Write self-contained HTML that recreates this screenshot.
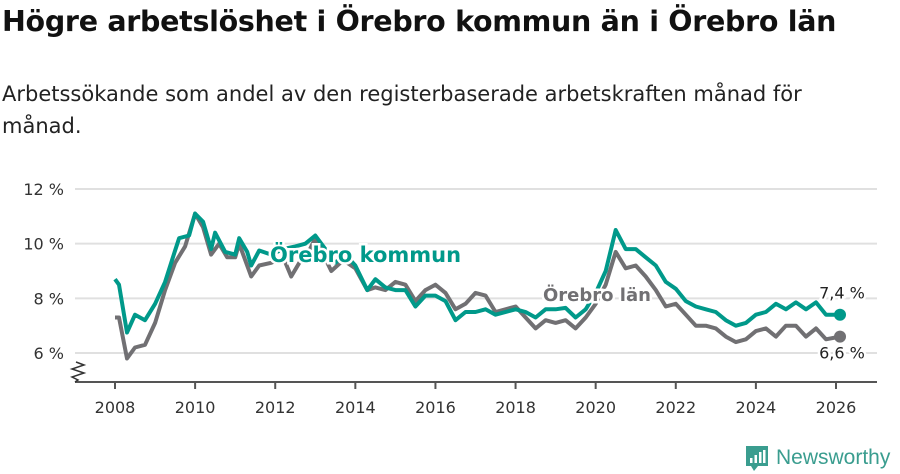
<!DOCTYPE html>
<html><head><meta charset="utf-8">
<style>
body{margin:0;width:900px;height:474px;background:#fff;font-family:"DejaVu Sans","Liberation Sans",sans-serif;overflow:hidden;position:relative}
h1{position:absolute;left:2px;top:5px;margin:0;font-size:28.5px;font-weight:bold;color:#111;letter-spacing:-0.3px;white-space:nowrap}
p.sub{position:absolute;left:2px;top:78px;margin:0;font-size:21px;line-height:32px;color:#222;width:830px}
svg{position:absolute;left:0;top:0}
</style></head><body>
<h1>Högre arbetslöshet i Örebro kommun än i Örebro län</h1>
<p class="sub">Arbetssökande som andel av den registerbaserade arbetskraften månad för månad.</p>
<svg id="chart" width="900" height="474"></svg>
<script>
const yTicks=[6,8,10,12];
const yTickLabels=["6 %","8 %","10 %","12 %"];
const xTicks=[2008,2010,2012,2014,2016,2018,2020,2022,2024,2026];
const kommunDates=[2008,2008.1,2008.3,2008.5,2008.75,2009,2009.25,2009.5,2009.6,2009.85,2010,2010.2,2010.4,2010.5,2010.75,2011,2011.1,2011.3,2011.4,2011.6,2011.9,2012.2,2012.5,2012.75,2013,2013.25,2013.5,2013.75,2014,2014.3,2014.5,2014.75,2015,2015.25,2015.5,2015.75,2016,2016.25,2016.5,2016.75,2017,2017.25,2017.5,2018,2018.25,2018.5,2018.75,2019,2019.25,2019.5,2019.75,2020,2020.25,2020.5,2020.75,2021,2021.25,2021.5,2021.75,2022,2022.25,2022.5,2022.75,2023,2023.25,2023.5,2023.75,2024,2024.25,2024.5,2024.75,2025,2025.25,2025.5,2025.75,2026.1];
const kommunValues=[8.7,8.5,6.75,7.4,7.2,7.8,8.6,9.75,10.2,10.3,11.1,10.8,9.8,10.4,9.7,9.6,10.2,9.7,9.2,9.75,9.6,9.8,9.9,10.0,10.3,9.8,9.3,9.6,9.2,8.3,8.7,8.4,8.3,8.3,7.7,8.1,8.1,7.9,7.2,7.5,7.5,7.6,7.4,7.6,7.5,7.3,7.6,7.6,7.65,7.3,7.6,8.2,9.0,10.5,9.8,9.8,9.5,9.2,8.6,8.35,7.9,7.7,7.6,7.5,7.2,7.0,7.1,7.4,7.5,7.8,7.6,7.85,7.6,7.85,7.4,7.4];
const lanDates=[2008,2008.1,2008.3,2008.5,2008.75,2009,2009.25,2009.5,2009.75,2010,2010.2,2010.4,2010.6,2010.8,2011,2011.1,2011.4,2011.6,2011.9,2012.2,2012.4,2012.6,2012.8,2013,2013.2,2013.4,2013.7,2014,2014.3,2014.5,2014.75,2015,2015.25,2015.5,2015.75,2016,2016.25,2016.5,2016.75,2017,2017.25,2017.5,2017.75,2018,2018.25,2018.5,2018.75,2019,2019.25,2019.5,2019.75,2020,2020.25,2020.5,2020.75,2021,2021.25,2021.5,2021.75,2022,2022.25,2022.5,2022.75,2023,2023.25,2023.5,2023.75,2024,2024.25,2024.5,2024.75,2025,2025.25,2025.5,2025.75,2026.1];
const lanValues=[7.3,7.3,5.8,6.2,6.3,7.1,8.3,9.3,9.9,11.1,10.6,9.6,10.0,9.5,9.5,10.0,8.8,9.2,9.3,9.5,8.8,9.3,9.6,10.2,9.6,9.0,9.4,9.1,8.3,8.4,8.3,8.6,8.5,7.9,8.3,8.5,8.2,7.6,7.8,8.2,8.1,7.5,7.6,7.7,7.3,6.9,7.2,7.1,7.2,6.9,7.3,7.8,8.5,9.7,9.1,9.2,8.8,8.3,7.7,7.8,7.4,7.0,7.0,6.9,6.6,6.4,6.5,6.8,6.9,6.6,7.0,7.0,6.6,6.9,6.5,6.6];

const NS="http://www.w3.org/2000/svg";
const svg=document.getElementById('chart');
const X=t=>115+(t-2008)*(836-115)/18;
const Y=v=>353-(v-6)*(353-189)/6;
function mk(tag,attrs,parent){const e=document.createElementNS(NS,tag);for(const k in attrs)e.setAttribute(k,attrs[k]);(parent||svg).appendChild(e);return e;}
yTicks.forEach((v,i)=>{
  const g=mk('line',{x1:75,x2:877,y1:Y(v),y2:Y(v),stroke:'#e0e0e0','stroke-width':2});
  
  
  const t=mk('text',{x:64,y:Y(v)+6,'text-anchor':'end','font-size':16,fill:'#333'});
  t.textContent=yTickLabels[i];
  
  
});
const ax=mk('line',{x1:75,x2:877,y1:382,y2:382,stroke:'#555','stroke-width':2});


const br=mk('path',{d:'M75 382 L78 380 L72 377 L84 373 L72 369 L84 365 L76 362',fill:'none',stroke:'#333','stroke-width':1.5});


xTicks.forEach(yr=>{
  const tk=mk('line',{x1:X(yr),x2:X(yr),y1:382,y2:389,stroke:'#555','stroke-width':2});
  
  
  const t=mk('text',{x:X(yr),y:413,'text-anchor':'middle','font-size':16,fill:'#333'});
  t.textContent=yr;
  
  
});
function line(dates,vals,color,name){
  const d=dates.map((t,i)=>(i?'L':'M')+X(t).toFixed(1)+' '+Y(vals[i]).toFixed(1)).join(' ');
  const p=mk('path',{d:d,fill:'none',stroke:color,'stroke-width':4,'stroke-linejoin':'round'});
  
  
  const n=dates.length-1;
  const c=mk('circle',{cx:X(dates[n]),cy:Y(vals[n]),r:6,fill:color});
  
  
}
line(lanDates,lanValues,'#717073','lan');
line(kommunDates,kommunValues,'#00998a','kommun');
function lbl(x,y,txt,color,name,size,weight,anchor,halo){
  const t=mk('text',{x:x,y:y,'font-size':size,'font-weight':weight,fill:color,'text-anchor':anchor});
  if(halo){t.setAttribute('stroke','#fff');t.setAttribute('stroke-width',5);t.setAttribute('paint-order','stroke');}
  t.textContent=txt;
  
  
}
lbl(270,262,'Örebro kommun','#00998a','kommun-label',21,'bold','start',true);
lbl(543,301,'Örebro län','#717073','lan-label',18,'bold','start',true);
const kn=kommunValues.length-1, ln=lanValues.length-1;
lbl(X(2026.1)+2,Y(kommunValues[kn])-16,'7,4 %','#222','kommun-end-value',16,'normal','middle',true);
lbl(X(2026.1)+2,Y(lanValues[ln])+22,'6,6 %','#222','lan-end-value',16,'normal','middle',true);
</script>
<svg width="900" height="474">
<path d="M746 446 h22 v20 h-10 l-4 5 l-3 -5 h-5 z" fill="#3a9d8f"/>
<rect x="750" y="458" width="2.5" height="5" fill="#fff"/><rect x="754.5" y="455" width="2.5" height="8" fill="#fff"/><rect x="759" y="452" width="2.5" height="11" fill="#fff"/><rect x="763" y="450" width="2.5" height="13" fill="#fff"/>
<text x="776" y="464" font-size="21" fill="#3a9d8f" font-family="Liberation Sans, sans-serif">Newsworthy</text>
</svg>
</body></html>
